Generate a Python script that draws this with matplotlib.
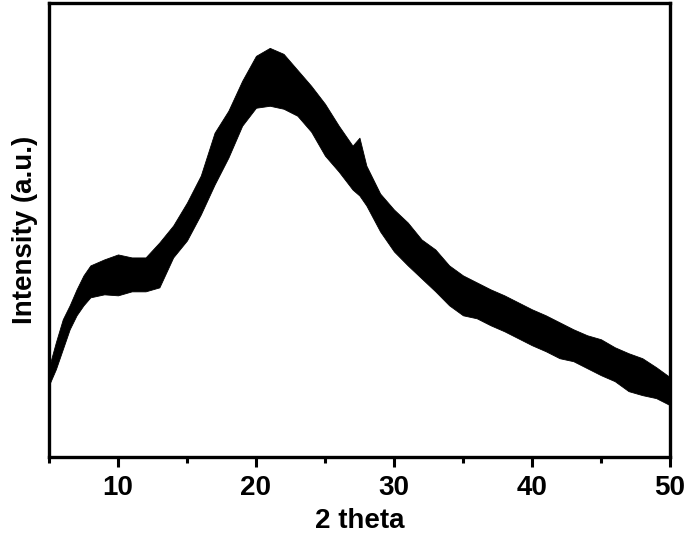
import matplotlib
matplotlib.use("Agg")
import matplotlib.pyplot as plt
from matplotlib.ticker import MultipleLocator

# 2-theta positions (degrees) where the noisy trace was read
two_theta = [5, 5.5, 6, 6.5, 7, 7.5, 8, 9, 10, 11, 12, 13, 14, 15, 16, 17, 18, 19,
             20, 21, 22, 23, 24, 25, 26, 27, 27.5, 28, 29, 30, 31, 32, 33, 34, 35,
             36, 37, 38, 39, 40, 41, 42, 43, 44, 45, 46, 47, 48, 49, 50]
# upper envelope of the noisy trace (a.u.)
upper = [90, 115, 138, 152, 168, 182, 192, 198, 203, 200, 200, 215, 232, 255, 282,
         325, 347, 377, 402, 410, 404, 388, 372, 354, 332, 312, 320, 292, 264, 248,
         235, 218, 208, 192, 182, 175, 168, 162, 155, 148, 142, 135, 128, 122, 118,
         110, 104, 99, 90, 80]
# lower envelope of the noisy trace (a.u.)
lower = [72, 88, 108, 128, 142, 152, 160, 163, 162, 166, 166, 170, 200, 217, 243,
         273, 300, 332, 350, 352, 349, 342, 326, 302, 286, 268, 262, 252, 226, 206,
         192, 179, 166, 152, 142, 139, 132, 126, 119, 112, 106, 99, 96, 89, 82,
         76, 66, 62, 59, 52]

xticks = [10, 20, 30, 40, 50]

plt.rcParams['font.family'] = ['Liberation Sans', 'DejaVu Sans']
plt.rcParams['font.weight'] = 'bold'

fig = plt.figure(figsize=(6.85, 5.51), dpi=100)
ax = fig.add_axes([0.0715, 0.1706, 0.9065, 0.824])

ax.fill_between(two_theta, lower, upper, color='black', linewidth=0.6,
                edgecolor='black')

ax.set_xlim(5, 50)
ax.set_ylim(0, 455)
ax.set_xticks(xticks)
ax.xaxis.set_minor_locator(MultipleLocator(5))
ax.set_yticks([])

for s in ax.spines.values():
    s.set_linewidth(2.4)

ax.tick_params(axis='x', which='major', direction='out', length=7, width=2.2,
               labelsize=20, pad=6)
ax.tick_params(axis='x', which='minor', direction='out', length=4, width=2.2)
for lab in ax.get_xticklabels():
    lab.set_fontweight('bold')

ax.set_xlabel('2 theta', fontsize=20, fontweight='bold', labelpad=5)
ax.set_ylabel('Intensity (a.u.)', fontsize=20, fontweight='bold', labelpad=8)

fig.savefig('out.png', dpi=100)
